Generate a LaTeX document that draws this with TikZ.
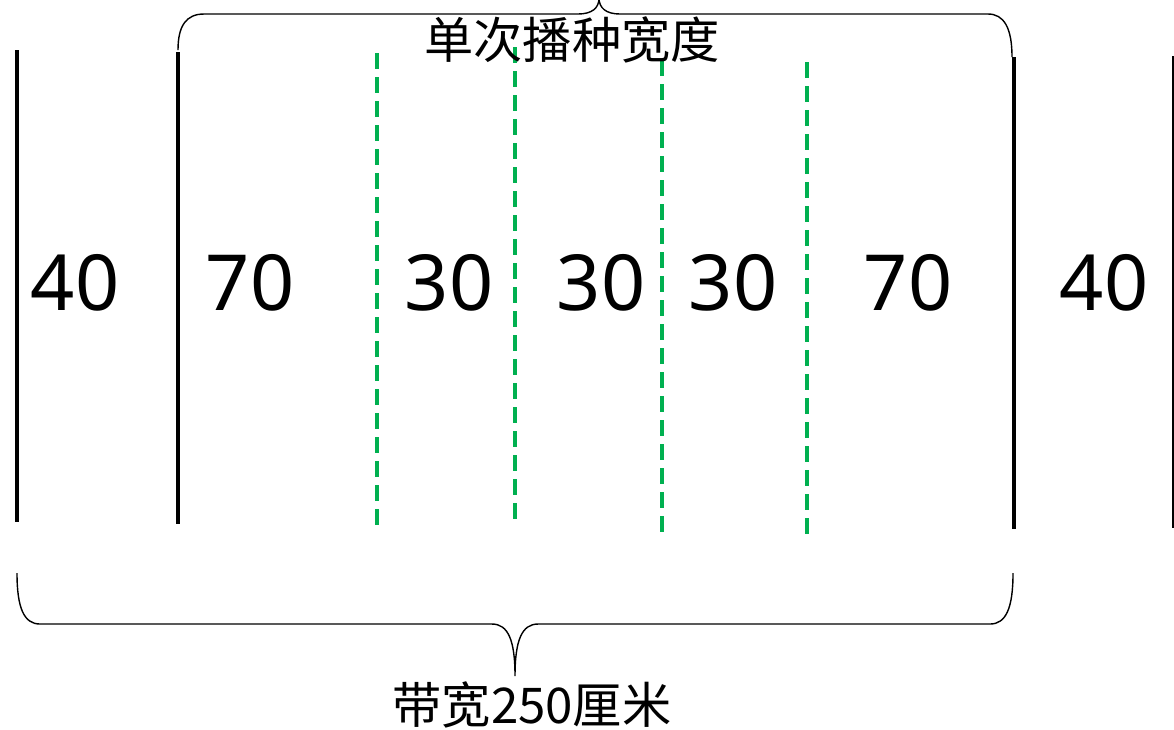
\documentclass[tikz,border=0pt]{standalone}
\usepackage{fontspec}
\setmainfont{Noto Sans}
\newfontfamily\cjk{Noto Sans CJK SC}
\usetikzlibrary{positioning}
\definecolor{seedgreen}{RGB}{0,176,80}
\tikzset{
	x=0.01cm, y=-0.01cm,
	belt/.style={line width=0.045cm, black},
	row/.style={line width=0.045cm, seedgreen, dash pattern=on 0.16cm off 0.08cm},
	brace/.style={line width=0.4pt, black},
	width/.style={font=\fontsize{22}{26}\selectfont, inner sep=0pt},
	caption/.style={font=\cjk\fontsize{14}{16}\selectfont, inner sep=0pt},
}
\begin{document}
\begin{tikzpicture}
	\useasboundingbox (0,0) rectangle (1174,729);

	% belt edges
	\draw[belt] (17,50) -- (17,522);
	\draw[belt] (178,52) -- (178,524);
	\draw[belt] (1014,57) -- (1014,529);
	\draw[belt, line width=0.02cm] (1173,56) -- (1173,528);

	% sowing rows
	\draw[row] (377,53) -- (377,526);
	\draw[row] (515,47) -- (515,520);
	\draw[row] (662,60) -- (662,533);
	\draw[row] (807,62) -- (807,535);

	% widths
	\node[width] (w1) at (75,283) {40};
	\node[width] (w2) at (250,283) {70};
	\node[width] (w3) at (449,283) {30};
	\node[width] (w4) at (601,283) {30};
	\node[width] (w5) at (733,283) {30};
	\node[width] (w6) at (908,283) {70};
	\node[width] (w7) at (1104,283) {40};

	% top brace
	\coordinate (tl) at (178,50);
	\coordinate (tt) at (599,-2);
	\coordinate (tr) at (1012,57);
	\draw[brace] (tl) .. controls (178,26) and (186,14) .. (204,14)
		-- (578,14) .. controls (592,14) and (599,8) .. (tt)
		.. controls (599,8) and (606,14) .. (620,14)
		-- (988,14) .. controls (1004,14) and (1012,28) .. (tr);
	\node[caption] (single) at (572,40) {单次播种宽度};

	% bottom brace
	\coordinate (bl) at (17,573);
	\coordinate (bt) at (515,676);
	\coordinate (br) at (1013,573);
	\draw[brace] (bl) .. controls (17,608) and (24,624) .. (40,624)
		-- (492,624) .. controls (508,624) and (515,640) .. (bt)
		.. controls (515,640) and (522,624) .. (538,624)
		-- (990,624) .. controls (1006,624) and (1013,608) .. (br);
	\node[caption] (band) at (532,705) {带宽250厘米};
\end{tikzpicture}
\end{document}
